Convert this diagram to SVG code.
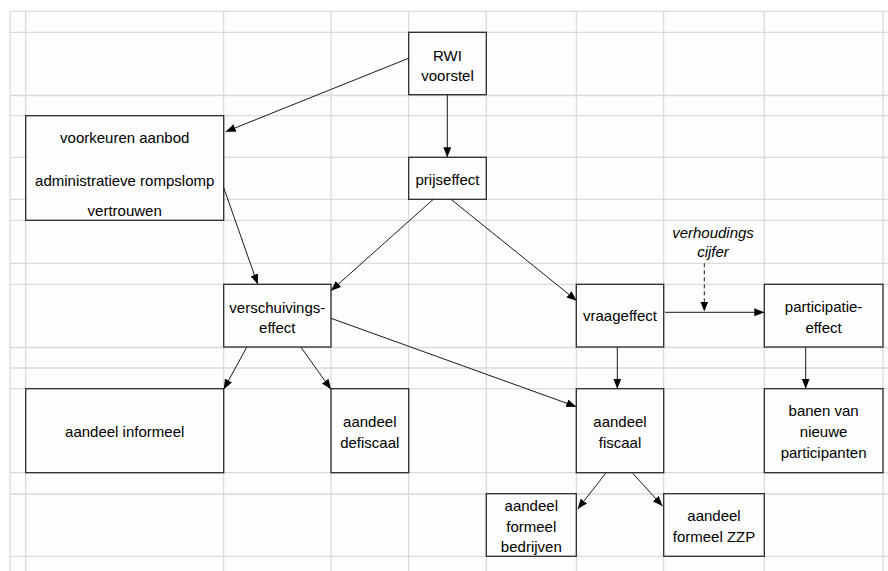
<svg xmlns="http://www.w3.org/2000/svg" width="888" height="571" viewBox="0 0 888 571">
<defs>
<style>
.grid line{stroke:#d2d2d2;stroke-width:1}
.grid .thick{stroke-width:1.6;stroke:#d9d9d9}
.box{fill:#fdfdfd;stroke:#2a2a2a;stroke-width:1.3}
text{font-family:"Liberation Sans",Arial,sans-serif;font-size:15px;fill:#000;text-anchor:middle}
.it{font-style:italic}
.conn line{stroke:#1a1a1a;stroke-width:1;fill:none}
.conn .dash{stroke-dasharray:4,3}
</style>
<marker id="ah" markerUnits="userSpaceOnUse" markerWidth="11" markerHeight="9" refX="10" refY="4" orient="auto">
<path d="M0,0 L10,4 L0,8 z" fill="#000"/>
</marker>
</defs>
<rect x="0" y="0" width="888" height="571" fill="#ffffff"/>
<rect x="10" y="11.3" width="878" height="560" fill="#fdfdfd"/>
<g class="grid">
<line x1="10" y1="11.3" x2="10" y2="571"/>
<line x1="25.7" y1="11.3" x2="25.7" y2="571"/>
<line x1="223.7" y1="11.3" x2="223.7" y2="571"/>
<line x1="331" y1="11.3" x2="331" y2="571"/>
<line x1="408.7" y1="11.3" x2="408.7" y2="571"/>
<line x1="486.3" y1="11.3" x2="486.3" y2="571"/>
<line x1="576.3" y1="11.3" x2="576.3" y2="571"/>
<line x1="663.7" y1="11.3" x2="663.7" y2="571"/>
<line x1="764.3" y1="11.3" x2="764.3" y2="571"/>
<line x1="883" y1="11.3" x2="883" y2="571"/>
<line x1="10" y1="11.3" x2="888" y2="11.3"/>
<line x1="10" y1="32.3" x2="888" y2="32.3"/>
<line class="thick" x1="10" y1="95.5" x2="888" y2="95.5"/>
<line x1="10" y1="115.7" x2="888" y2="115.7"/>
<line x1="10" y1="157.3" x2="888" y2="157.3"/>
<line x1="10" y1="199.3" x2="888" y2="199.3"/>
<line x1="10" y1="220.3" x2="888" y2="220.3"/>
<line x1="10" y1="263.3" x2="888" y2="263.3"/>
<line x1="10" y1="284.3" x2="888" y2="284.3"/>
<line class="thick" x1="10" y1="347.5" x2="888" y2="347.5"/>
<line class="thick" x1="10" y1="368" x2="888" y2="368"/>
<line x1="10" y1="388.7" x2="888" y2="388.7"/>
<line x1="10" y1="472.7" x2="888" y2="472.7"/>
<line class="thick" x1="10" y1="494" x2="888" y2="494"/>
<line x1="10" y1="556.3" x2="888" y2="556.3"/>
</g>
<g id="rwi">
<rect class="box" x="408.7" y="32.3" width="77.6" height="62.4"/>
<text x="447.5" y="60.5">RWI</text>
<text x="447.5" y="81">voorstel</text>
</g>
<g id="voorkeuren">
<rect class="box" x="25.7" y="115.7" width="198" height="104.6"/>
<text x="124.7" y="143">voorkeuren aanbod</text>
<text x="124.7" y="185.5">administratieve rompslomp</text>
<text x="124.7" y="216">vertrouwen</text>
</g>
<g id="prijseffect">
<rect class="box" x="408.7" y="157.3" width="77.6" height="42"/>
<text x="447.5" y="184.5">prijseffect</text>
</g>
<g id="verschuivingseffect">
<rect class="box" x="223.7" y="284.3" width="107.3" height="62.7"/>
<text x="277.3" y="312.5">verschuivings-</text>
<text x="277.3" y="333">effect</text>
</g>
<g id="vraageffect">
<rect class="box" x="576.3" y="284.3" width="87.4" height="62.7"/>
<text x="620" y="321">vraageffect</text>
</g>
<g id="participatieeffect">
<rect class="box" x="764.3" y="284.3" width="118.7" height="62.7"/>
<text x="823.6" y="312">participatie-</text>
<text x="823.6" y="333">effect</text>
</g>
<g id="verhoudingscijfer">
<text class="it" x="713" y="237.5">verhoudings</text>
<text class="it" x="713" y="257">cijfer</text>
</g>
<g id="informeel">
<rect class="box" x="25.7" y="388.7" width="198" height="84"/>
<text x="124.7" y="437">aandeel informeel</text>
</g>
<g id="defiscaal">
<rect class="box" x="331" y="388.7" width="77.7" height="84"/>
<text x="369.8" y="427">aandeel</text>
<text x="369.8" y="447.5">defiscaal</text>
</g>
<g id="fiscaal">
<rect class="box" x="576.3" y="388.7" width="87.4" height="84"/>
<text x="620" y="427">aandeel</text>
<text x="620" y="447.5">fiscaal</text>
</g>
<g id="banen">
<rect class="box" x="764.3" y="388.7" width="118.7" height="84"/>
<text x="823.6" y="416">banen van</text>
<text x="823.6" y="437">nieuwe</text>
<text x="823.6" y="457.5">participanten</text>
</g>
<g id="formeelbedrijven">
<rect class="box" x="486.3" y="493.7" width="90" height="62.6"/>
<text x="531.3" y="511">aandeel</text>
<text x="531.3" y="531.5">formeel</text>
<text x="531.3" y="552">bedrijven</text>
</g>
<g id="formeelzzp">
<rect class="box" x="663.7" y="493.7" width="100.6" height="62.6"/>
<text x="714" y="521">aandeel</text>
<text x="714" y="541.5">formeel ZZP</text>
</g>
<g class="conn">
<line x1="408.5" y1="58.3" x2="225.7" y2="131.7" marker-end="url(#ah)"/>
<line x1="447.3" y1="94.7" x2="447.3" y2="157.3" marker-end="url(#ah)"/>
<line x1="223.7" y1="187.7" x2="257.7" y2="284.3" marker-end="url(#ah)"/>
<line x1="433.3" y1="199.3" x2="331" y2="290.7" marker-end="url(#ah)"/>
<line x1="451" y1="199.3" x2="576.7" y2="300.7" marker-end="url(#ah)"/>
<line x1="331" y1="318.3" x2="576.3" y2="406.7" marker-end="url(#ah)"/>
<line x1="246.7" y1="347.3" x2="223.7" y2="389.3" marker-end="url(#ah)"/>
<line x1="301" y1="347.3" x2="331" y2="389.3" marker-end="url(#ah)"/>
<line x1="665" y1="312.3" x2="764.3" y2="312.3" marker-end="url(#ah)"/>
<line class="dash" x1="704.3" y1="263.3" x2="704.3" y2="311.5" marker-end="url(#ah)"/>
<line x1="617.3" y1="347" x2="617.3" y2="388.7" marker-end="url(#ah)"/>
<line x1="805.7" y1="347" x2="805.7" y2="388.7" marker-end="url(#ah)"/>
<line x1="605.7" y1="473.3" x2="577.7" y2="509" marker-end="url(#ah)"/>
<line x1="632.7" y1="473.3" x2="662.5" y2="506" marker-end="url(#ah)"/>
</g>
</svg>
